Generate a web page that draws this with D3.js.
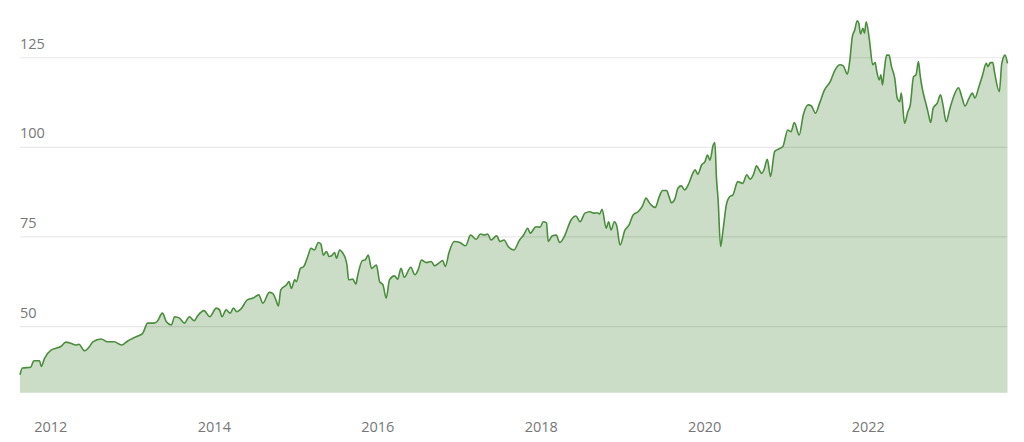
<!DOCTYPE html>
<html>
<head>
<meta charset="utf-8">
<script src="https://cdn.jsdelivr.net/npm/d3@7"></script>
<style>
  html, body { margin: 0; padding: 0; background: #fff; }
  svg { display: block; }
  text { font-family: "Open Sans", "Noto Sans", sans-serif; }
</style>
</head>
<body>
<svg id="chart" width="1024" height="442"></svg>
<script>
// Time positions as decimal years
const years = [
  2011.63, 2011.66, 2011.76, 2011.80, 2011.87, 2011.89, 2011.93, 2012.01, 2012.07, 2012.13,
  2012.19, 2012.25, 2012.31, 2012.35, 2012.42, 2012.48, 2012.52, 2012.62, 2012.70, 2012.78,
  2012.87, 2012.95, 2013.01, 2013.07, 2013.13, 2013.19, 2013.27, 2013.31, 2013.37, 2013.42,
  2013.48, 2013.52, 2013.58, 2013.64, 2013.70, 2013.76, 2013.80, 2013.88, 2013.95, 2014.03,
  2014.07, 2014.10, 2014.15, 2014.20, 2014.24, 2014.28, 2014.33, 2014.41, 2014.48, 2014.55,
  2014.60, 2014.68, 2014.72, 2014.76, 2014.79, 2014.82, 2014.89, 2014.92, 2014.95, 2014.99,
  2015.01, 2015.06, 2015.10, 2015.15, 2015.19, 2015.23, 2015.28, 2015.31, 2015.34, 2015.38,
  2015.41, 2015.44, 2015.48, 2015.50, 2015.54, 2015.58, 2015.61, 2015.63, 2015.65, 2015.70,
  2015.74, 2015.76, 2015.82, 2015.85, 2015.89, 2015.93, 2015.99, 2016.03, 2016.07, 2016.11,
  2016.15, 2016.21, 2016.25, 2016.29, 2016.33, 2016.41, 2016.46, 2016.50, 2016.54, 2016.60,
  2016.66, 2016.70, 2016.76, 2016.80, 2016.83, 2016.88, 2016.94, 2017.01, 2017.08, 2017.14,
  2017.21, 2017.26, 2017.31, 2017.35, 2017.39, 2017.46, 2017.50, 2017.55, 2017.60, 2017.67,
  2017.74, 2017.79, 2017.84, 2017.87, 2017.94, 2017.99, 2018.03, 2018.07, 2018.09, 2018.14,
  2018.19, 2018.23, 2018.29, 2018.37, 2018.43, 2018.48, 2018.54, 2018.60, 2018.65, 2018.69,
  2018.72, 2018.75, 2018.80, 2018.83, 2018.86, 2018.90, 2018.93, 2018.97, 2019.03, 2019.08,
  2019.13, 2019.19, 2019.24, 2019.29, 2019.32, 2019.35, 2019.40, 2019.45, 2019.49, 2019.54,
  2019.57, 2019.60, 2019.64, 2019.68, 2019.72, 2019.76, 2019.81, 2019.86, 2019.89, 2019.92,
  2019.97, 2020.01, 2020.04, 2020.07, 2020.11, 2020.13, 2020.15, 2020.17, 2020.20, 2020.23,
  2020.27, 2020.31, 2020.35, 2020.41, 2020.47, 2020.52, 2020.56, 2020.60, 2020.64, 2020.67,
  2020.70, 2020.73, 2020.77, 2020.81, 2020.86, 2020.90, 2020.96, 2021.02, 2021.06, 2021.10,
  2021.16, 2021.21, 2021.27, 2021.31, 2021.36, 2021.41, 2021.47, 2021.54, 2021.60, 2021.66,
  2021.70, 2021.75, 2021.78, 2021.81, 2021.84, 2021.87, 2021.89, 2021.91, 2021.94, 2021.96,
  2021.98, 2022.02, 2022.06, 2022.09, 2022.11, 2022.14, 2022.16, 2022.18, 2022.20, 2022.23,
  2022.26, 2022.29, 2022.33, 2022.36, 2022.39, 2022.41, 2022.45, 2022.49, 2022.52, 2022.56,
  2022.59, 2022.62, 2022.64, 2022.67, 2022.71, 2022.74, 2022.77, 2022.80, 2022.85, 2022.89,
  2022.92, 2022.96, 2023.00, 2023.05, 2023.11, 2023.15, 2023.19, 2023.24, 2023.28, 2023.31,
  2023.36, 2023.40, 2023.45, 2023.47, 2023.50, 2023.53, 2023.55, 2023.61, 2023.64, 2023.68,
  2023.71
];

const values = [
  36.4, 38.3, 38.5, 40.3, 40.3, 38.7, 41.0, 43.3, 43.8, 44.3,
  45.5, 45.2, 44.7, 44.9, 43.1, 44.3, 45.6, 46.4, 45.6, 45.6,
  44.7, 45.9, 46.6, 47.2, 48.0, 50.8, 50.8, 51.4, 53.6, 51.2,
  50.3, 52.6, 52.2, 50.8, 52.6, 51.5, 52.8, 54.3, 52.6, 55.0,
  54.5, 52.6, 54.5, 53.6, 55.0, 54.0, 54.7, 57.3, 57.8, 58.7,
  56.4, 59.4, 59.1, 57.3, 55.6, 60.1, 61.5, 62.4, 60.5, 62.9,
  62.4, 66.1, 66.6, 69.4, 71.7, 71.2, 73.3, 72.9, 69.8, 70.8,
  69.4, 69.6, 70.5, 68.9, 71.2, 70.3, 68.9, 67.0, 62.9, 63.1,
  61.7, 64.0, 68.3, 68.4, 69.8, 66.1, 67.0, 62.4, 61.5, 57.8,
  62.9, 64.0, 63.1, 66.1, 63.6, 66.4, 64.3, 65.7, 68.4, 67.7,
  68.0, 66.8, 67.7, 68.3, 66.6, 70.8, 73.6, 73.3, 72.4, 75.4,
  74.2, 75.7, 75.4, 75.7, 74.0, 75.2, 73.6, 74.0, 72.2, 71.2,
  74.0, 75.4, 77.3, 75.9, 77.7, 77.6, 79.1, 78.8, 73.6, 75.2,
  75.4, 73.3, 75.1, 79.6, 80.7, 79.1, 81.5, 81.9, 81.5, 81.6,
  81.3, 82.6, 77.3, 79.1, 76.8, 79.1, 77.9, 72.6, 76.8, 78.2,
  81.0, 81.9, 83.3, 85.7, 84.7, 83.8, 83.1, 86.1, 87.8, 87.8,
  86.1, 84.4, 85.4, 88.5, 89.1, 88.0, 89.7, 92.6, 93.6, 92.4,
  95.0, 95.9, 97.7, 96.3, 100.5, 101.2, 91.2, 85.2, 72.2, 76.8,
  83.8, 86.1, 86.6, 90.3, 89.8, 92.2, 91.0, 92.2, 94.7, 93.6,
  92.6, 93.6, 96.5, 91.7, 98.7, 99.3, 100.1, 104.7, 104.2, 106.8,
  103.3, 108.9, 111.7, 111.4, 109.4, 112.2, 115.9, 118.2, 121.5, 122.9,
  122.6, 120.3, 124.2, 130.7, 132.6, 135.2, 134.5, 131.5, 133.1, 131.7,
  134.9, 129.8, 122.9, 123.5, 121.0, 118.7, 120.1, 117.3, 121.0, 125.6,
  125.6, 122.4, 119.1, 113.6, 112.6, 115.0, 106.6, 109.8, 111.7, 119.6,
  120.1, 123.8, 120.1, 115.9, 112.2, 109.4, 106.8, 110.8, 112.2, 114.5,
  111.7, 107.0, 110.3, 114.0, 116.5, 114.0, 111.4, 113.6, 115.0, 113.6,
  116.8, 119.6, 123.3, 122.4, 123.5, 123.5, 121.0, 115.4, 123.3, 125.6,
  123.3
];

const xTickYears = [2012, 2014, 2016, 2018, 2020, 2022];
const yTicks = [50, 75, 100, 125];
const yDomain = [31.4, 140];

function toDate(dy) {
  const yr = Math.floor(dy);
  const start = Date.UTC(yr, 0, 1), end = Date.UTC(yr + 1, 0, 1);
  return new Date(start + (dy - yr) * (end - start));
}

const data = years.map((yr, i) => ({ date: toDate(yr), value: values[i] }));

const svg = d3.select("#chart");
const plotLeft = 20, plotRight = 1007.5, plotBottom = 392.7, plotTop = 3.5;

const x = d3.scaleUtc()
  .domain(d3.extent(data, d => d.date))
  .range([plotLeft, plotRight]);

const y = d3.scaleLinear()
  .domain(yDomain)
  .range([plotBottom, plotTop]);

// Area
const area = d3.area()
  .x(d => x(d.date))
  .y0(plotBottom)
  .y1(d => y(d.value))
  .curve(d3.curveMonotoneX);

svg.append("path")
  .datum(data)
  .attr("d", area)
  .attr("fill", "#cbddc6");

// Gridlines (drawn above area so they darken it slightly)
const grid = svg.append("g")
  .attr("transform", `translate(${plotLeft},0)`)
  .call(d3.axisRight(y).tickValues(yTicks).tickSize(plotRight - plotLeft).tickFormat(""));
grid.select(".domain").remove();
grid.selectAll(".tick line")
  .attr("stroke", "rgba(0,0,0,0.09)")
  .attr("stroke-width", 1.2);

// Line
const line = d3.line()
  .x(d => x(d.date))
  .y(d => y(d.value))
  .curve(d3.curveMonotoneX);

svg.append("path")
  .datum(data)
  .attr("d", line)
  .attr("fill", "none")
  .attr("stroke", "#4a8d3d")
  .attr("stroke-width", 1.6)
  .attr("stroke-linejoin", "round");

// Y labels
const yAxis = svg.append("g")
  .attr("transform", `translate(${plotLeft},0)`)
  .call(d3.axisRight(y).tickValues(yTicks).tickSize(0).tickPadding(0).tickFormat(d3.format("d")));
yAxis.select(".domain").remove();
yAxis.selectAll("text")
  .attr("x", 0)
  .attr("dy", "-0.62em")
  .attr("text-anchor", "start")
  .attr("fill", "#777")
  .style("font-size", "14.5px");

// X labels
const xAxis = svg.append("g")
  .attr("transform", `translate(0,${plotBottom})`)
  .call(d3.axisBottom(x)
    .tickValues(xTickYears.map(v => new Date(Date.UTC(v, 0, 1))))
    .tickSize(0)
    .tickPadding(29)
    .tickFormat(d3.utcFormat("%Y")));
xAxis.select(".domain").remove();
xAxis.selectAll("text")
  .attr("fill", "#777")
  .style("font-size", "14.5px");
</script>
</body>
</html>
